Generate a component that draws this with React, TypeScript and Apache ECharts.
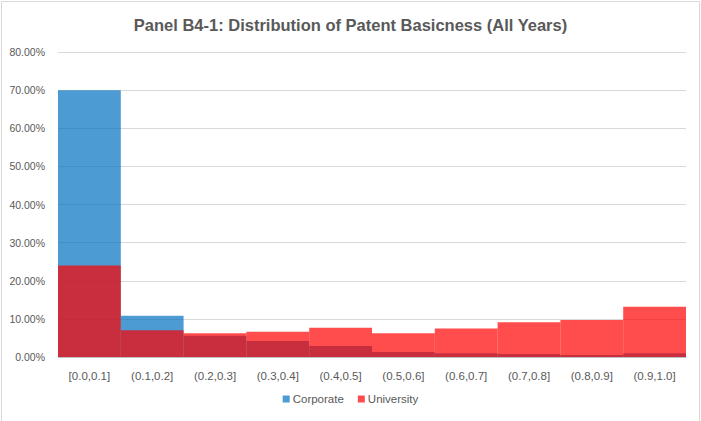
import React, { useEffect, useRef } from "react";
import * as echarts from "echarts";

const categories = ["[0.0,0.1]", "(0.1,0.2]", "(0.2,0.3]", "(0.3,0.4]", "(0.4,0.5]", "(0.5,0.6]", "(0.6,0.7]", "(0.7,0.8]", "(0.8,0.9]", "(0.9,1.0]"];
const corporate = [70.0, 10.8, 5.6, 4.2, 2.9, 1.3, 1.0, 0.8, 0.5, 1.0];
const university = [24.0, 7.0, 6.2, 6.6, 7.7, 6.2, 7.5, 9.1, 9.7, 13.2];
const seriesNames = ["Corporate", "University"];
const titleText = "Panel B4-1: Distribution of Patent Basicness (All Years)";

const FONT = "'Liberation Sans', Arial, sans-serif";

export default function App() {
  const ref = useRef<HTMLDivElement>(null);
  useEffect(() => {
    if (!ref.current) return;
    const chart = echarts.init(ref.current, undefined, { renderer: "svg" });
    chart.setOption({
      animation: false,
      backgroundColor: "#ffffff",
      title: {
        text: titleText,
        left: "center",
        top: 11,
        textStyle: { fontFamily: FONT, fontSize: 16.5, fontWeight: "bold", color: "#595959" },
      },
      graphic: [
        {
          type: "rect",
          shape: { x: 1.5, y: 1.5, width: 698, height: 440 },
          style: { fill: "none", stroke: "#d9d9d9", lineWidth: 1 },
          silent: true,
        },
      ],
      legend: {
        data: seriesNames,
        bottom: 11,
        left: "center",
        icon: "rect",
        itemWidth: 7,
        itemHeight: 7,
        itemGap: 14,
        textStyle: { fontFamily: FONT, fontSize: 11.5, color: "#595959", padding: [0, 0, 0, -2] },
      },
      grid: { left: 58, right: 15, top: 52, bottom: 64, containLabel: false },
      xAxis: {
        type: "category",
        data: categories,
        axisLine: { lineStyle: { color: "#bfbfbf" } },
        axisTick: { show: false },
        axisLabel: { fontFamily: FONT, fontSize: 11.5, color: "#595959", margin: 13 },
      },
      yAxis: {
        type: "value",
        min: 0,
        max: 80,
        interval: 10,
        axisLine: { show: false },
        axisTick: { show: false },
        splitLine: { lineStyle: { color: "#d9d9d9", width: 1 } },
        axisLabel: {
          fontFamily: FONT,
          fontSize: 10.5,
          color: "#595959",
          margin: 13,
          formatter: (v: number) => v.toFixed(2) + "%",
        },
      },
      series: [
        {
          name: seriesNames[0],
          type: "bar",
          data: corporate,
          barGap: "-100%",
          barCategoryGap: 0,
          itemStyle: { color: "rgba(0,112,192,0.7)" },
        },
        {
          name: seriesNames[1],
          type: "bar",
          data: university,
          barGap: "-100%",
          barCategoryGap: 0,
          itemStyle: { color: "rgba(255,0,0,0.7)" },
        },
      ],
    });
    return () => chart.dispose();
  }, []);
  return <div ref={ref} style={{ position: "fixed", left: 0, top: 0, width: 701, height: 421 }} />;
}
